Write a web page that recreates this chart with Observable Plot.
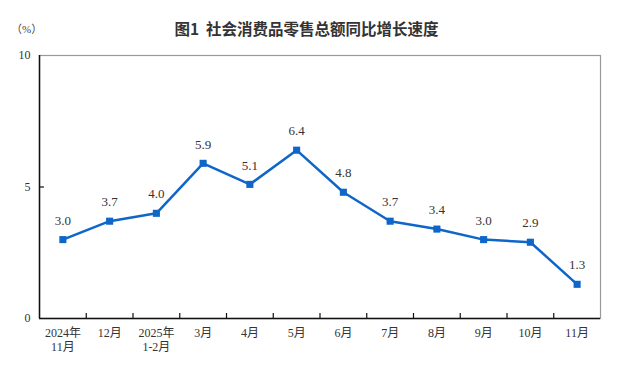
<!DOCTYPE html>
<html><head><meta charset="utf-8">
<script src="https://cdn.jsdelivr.net/npm/d3@7"></script>
<script src="https://cdn.jsdelivr.net/npm/@observablehq/plot@0.6"></script>
<style>
body{margin:0;background:#fff;}
#wrap{position:relative;width:624px;height:370px;}
#title{position:absolute;left:0;width:613px;top:17px;text-align:center;font:bold 15.5px "Noto Sans CJK SC",sans-serif;color:#333;white-space:pre;}
#unit{position:absolute;left:11px;top:20px;font:11px "Liberation Serif","Noto Sans CJK SC",serif;color:#444;}
</style></head><body>
<div id="wrap"><div id="title">图1  社会消费品零售总额同比增长速度</div><div id="unit">（%）</div></div>
<script>
const months = ["2024年\n11月","12月","2025年\n1-2月","3月","4月","5月","6月","7月","8月","9月","10月","11月"];
const growth = [3.0,3.7,4.0,5.9,5.1,6.4,4.8,3.7,3.4,3.0,2.9,1.3];
const yTicks = [0,5,10];

const data = months.map((m,i)=>({i, m, v: growth[i]}));
const idx = months.map((m,i)=>i);
const bounds = idx.slice(1).map(i=>i-0.5);
const blue = "#0f66c9";
const W = 624, H = 370, mT = 55, mL = 39, mR = 24, mB = 52;
const tick = 5;

const chart = Plot.plot({
  width: W, height: H,
  marginTop: mT, marginLeft: mL, marginRight: mR, marginBottom: mB,
  style: {fontFamily: '"Liberation Serif","Noto Sans CJK SC",serif', fontSize: "12px", color: "#333", background: "#fff"},
  x: {domain: [-0.5, 11.5]},
  y: {domain: [0, 10]},
  marks: [
    Plot.frame({stroke: "#999", strokeWidth: 1.2}),
    Plot.ruleY([0], {stroke: "#111", strokeWidth: 1.5}),
    Plot.ruleX([-0.5], {stroke: "#111", strokeWidth: 1.5}),
    Plot.axisY(yTicks, {tickSize: 0, tickPadding: 9, label: null, fontSize: 12}),
    Plot.tickY(yTicks.slice(1, 2), {y: d => d, stroke: "#111", strokeWidth: 1.2, insetRight: W - mL - mR - tick}),
    Plot.tickX(bounds, {x: d => d, stroke: "#111", strokeWidth: 1.2, insetTop: H - mT - mB - tick}),
    Plot.axisX(idx, {tickSize: 0, tickPadding: 8, tickFormat: i => months[i], label: null, lineHeight: 1.2, fontSize: 12}),
    Plot.line(data, {x: "i", y: "v", stroke: blue, strokeWidth: 2.5}),
    Plot.dot(data, {x: "i", y: "v", symbol: "square", r: 4, fill: blue, stroke: null}),
    Plot.text(data, {x: "i", y: "v", text: d => d.v.toFixed(1), dy: -19, fontSize: 13, fill: "#333"})
  ]
});
chart.style.position = "absolute";
chart.style.left = "0";
chart.style.top = "0";
document.getElementById("wrap").prepend(chart);
</script>
</body></html>
